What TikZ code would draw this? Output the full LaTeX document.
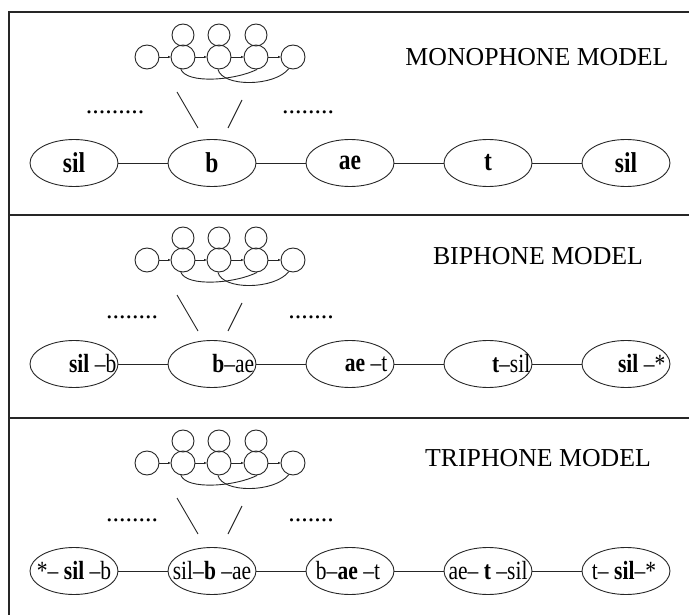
\documentclass[tikz,border=0pt]{standalone}
\usepackage{fontspec}
\usepackage{graphicx}
\setmainfont{Liberation Serif}
\usetikzlibrary{arrows.meta,calc,shapes.geometric}
\newcommand\tall[1]{\scalebox{1}[1.22]{#1}}
\newcommand\myhmm[2]{%
  \foreach \i/\x in {1/147,2/183,3/219,4/256,5/293} {\node[hmmstate] (#2s\i) at (\x,#1) {};}
  \foreach \i/\x in {2/183,3/219,4/256} {\node[hmmloop] (#2l\i) at (\x,{#1-22}) {};}
  \draw[hmmedge] (#2s1) -- (#2s2);
  \draw[hmmedge] (#2s2) -- (#2s3);
  \draw[hmmedge] (#2s3) -- (#2s4);
  \draw[hmmedge] (#2s4) -- (#2s5);
  \draw[thinline] (#2s2.-100) .. controls +(6,15) and +(-22,11) .. (#2s4.-85);
  \draw[thinline] (#2s3.-95) .. controls +(5,18) and +(-14,18) .. (#2s5.-110);
  \coordinate (#2a1) at (177,{#1+35});
  \coordinate (#2a2) at (198,{#1+71});
  \coordinate (#2b1) at (242,{#1+43});
  \coordinate (#2b2) at (228,{#1+71});
  \draw[thinline] (#2a1) -- (#2a2);
  \draw[thinline] (#2b1) -- (#2b2);
}
\begin{document}
\begin{tikzpicture}[x=1pt,y=-1pt,
  frame/.style={line width=1.2pt, black!85},
  thinline/.style={line width=0.9pt, black!85},
  hmmedge/.style={thinline, -{Latex[length=3pt,width=2.5pt]}, shorten >=-0.5pt},
  phone/.style={draw, ellipse, line width=0.9pt, black!85, minimum width=88pt, minimum height=47pt, inner sep=0pt},
  hmmstate/.style={draw, circle, line width=0.9pt, black!85, minimum size=24pt, inner sep=0pt},
  hmmloop/.style={draw, circle, line width=0.9pt, black!85, minimum size=22pt, inner sep=0pt},
  lbl/.style={font=\fontsize{23.5}{26}\selectfont, inner sep=0pt},
  lbls/.style={font=\fontsize{21.5}{24}\selectfont, inner sep=0pt},
  ttl/.style={font=\fontsize{25.8}{28}\selectfont, inner sep=0pt},
  dots/.style={font=\fontsize{26}{28}\selectfont, inner sep=0pt}]
\useasboundingbox (0,0) rectangle (689,615);
% frame
\coordinate (tl) at (9,12);
\coordinate (tr) at (689,12);
\coordinate (bl) at (9,615);
\coordinate (m1l) at (9,215);
\coordinate (m1r) at (689,215);
\coordinate (m2l) at (9,418);
\coordinate (m2r) at (689,418);
\draw[frame] (bl) -- (tl) -- (tr);
\draw[frame] (m1l) -- (m1r);
\draw[frame] (m2l) -- (m2r);

% titles
\node[ttl] (t1) at (537,57) {MONOPHONE MODEL};
\node[ttl] (t2) at (538,256) {BIPHONE MODEL};
\node[ttl] (t3) at (538,458) {TRIPHONE MODEL};

% small HMMs
\myhmm{57}{A}
\myhmm{260}{B}
\myhmm{463}{C}

% dots
\node[dots] (d1l) at (115,112) {.........};
\node[dots] (d1r) at (308,112) {........};
\node[dots] (d2l) at (132,317) {........};
\node[dots] (d2r) at (311,317) {.......};
\node[dots] (d3l) at (132,520) {........};
\node[dots] (d3r) at (311,520) {.......};

% row 1
\foreach \i/\x in {1/74,2/212,3/350,4/488,5/626} {\node[phone] (r1e\i) at (\x,163) {};}
\foreach \i/\j in {1/2,2/3,3/4,4/5} {\draw[thinline] (r1e\i) -- (r1e\j);}
\node[lbl] (r1t1) at (r1e1) {\tall{\textbf{sil}}};
\node[lbl] (r1t2) at (r1e2) {\tall{\textbf{b}}};
\node[lbl] (r1t3) at (r1e3) {\tall{\textbf{ae}}};
\node[lbl] (r1t4) at (r1e4) {\tall{\textbf{t}}};
\node[lbl] (r1t5) at (r1e5) {\tall{\textbf{sil}}};

% row 2
\foreach \i/\x in {1/74,2/212,3/350,4/488,5/626} {\node[phone] (r2e\i) at (\x,364) {};}
\foreach \i/\j in {1/2,2/3,3/4,4/5} {\draw[thinline] (r2e\i) -- (r2e\j);}
\node[lbls,anchor=east] (r2t1) at ($(r2e1.east)+(-2,0)$) {\tall{\textbf{sil} –b}};
\node[lbls,anchor=east] (r2t2) at ($(r2e2.east)+(-2,0)$) {\tall{\textbf{b}–ae}};
\node[lbls,anchor=east] (r2t3) at ($(r2e3.east)+(-7,0)$) {\tall{\textbf{ae} –t}};
\node[lbls,anchor=east] (r2t4) at ($(r2e4.east)+(-2,0)$) {\tall{\textbf{t}–sil}};
\node[lbls,anchor=east] (r2t5) at ($(r2e5.east)+(-5,0)$) {\tall{\textbf{sil} –*}};

% row 3
\foreach \i/\x in {1/74,2/212,3/350,4/488,5/626} {\node[phone] (r3e\i) at (\x,571) {};}
\foreach \i/\j in {1/2,2/3,3/4,4/5} {\draw[thinline] (r3e\i) -- (r3e\j);}
\node[lbls] (r3t1) at (r3e1) {\tall{*– \textbf{sil} –b}};
\node[lbls] (r3t2) at (r3e2) {\tall{sil–\textbf{b} –ae}};
\node[lbls] (r3t3) at ($(r3e3)+(-2,0)$) {\tall{b–\textbf{ae} –t}};
\node[lbls] (r3t4) at (r3e4) {\tall{ae– \textbf{t} –sil}};
\node[lbls] (r3t5) at ($(r3e5)+(-2,0)$) {\tall{t– \textbf{sil}–*}};
\end{tikzpicture}
\end{document}
